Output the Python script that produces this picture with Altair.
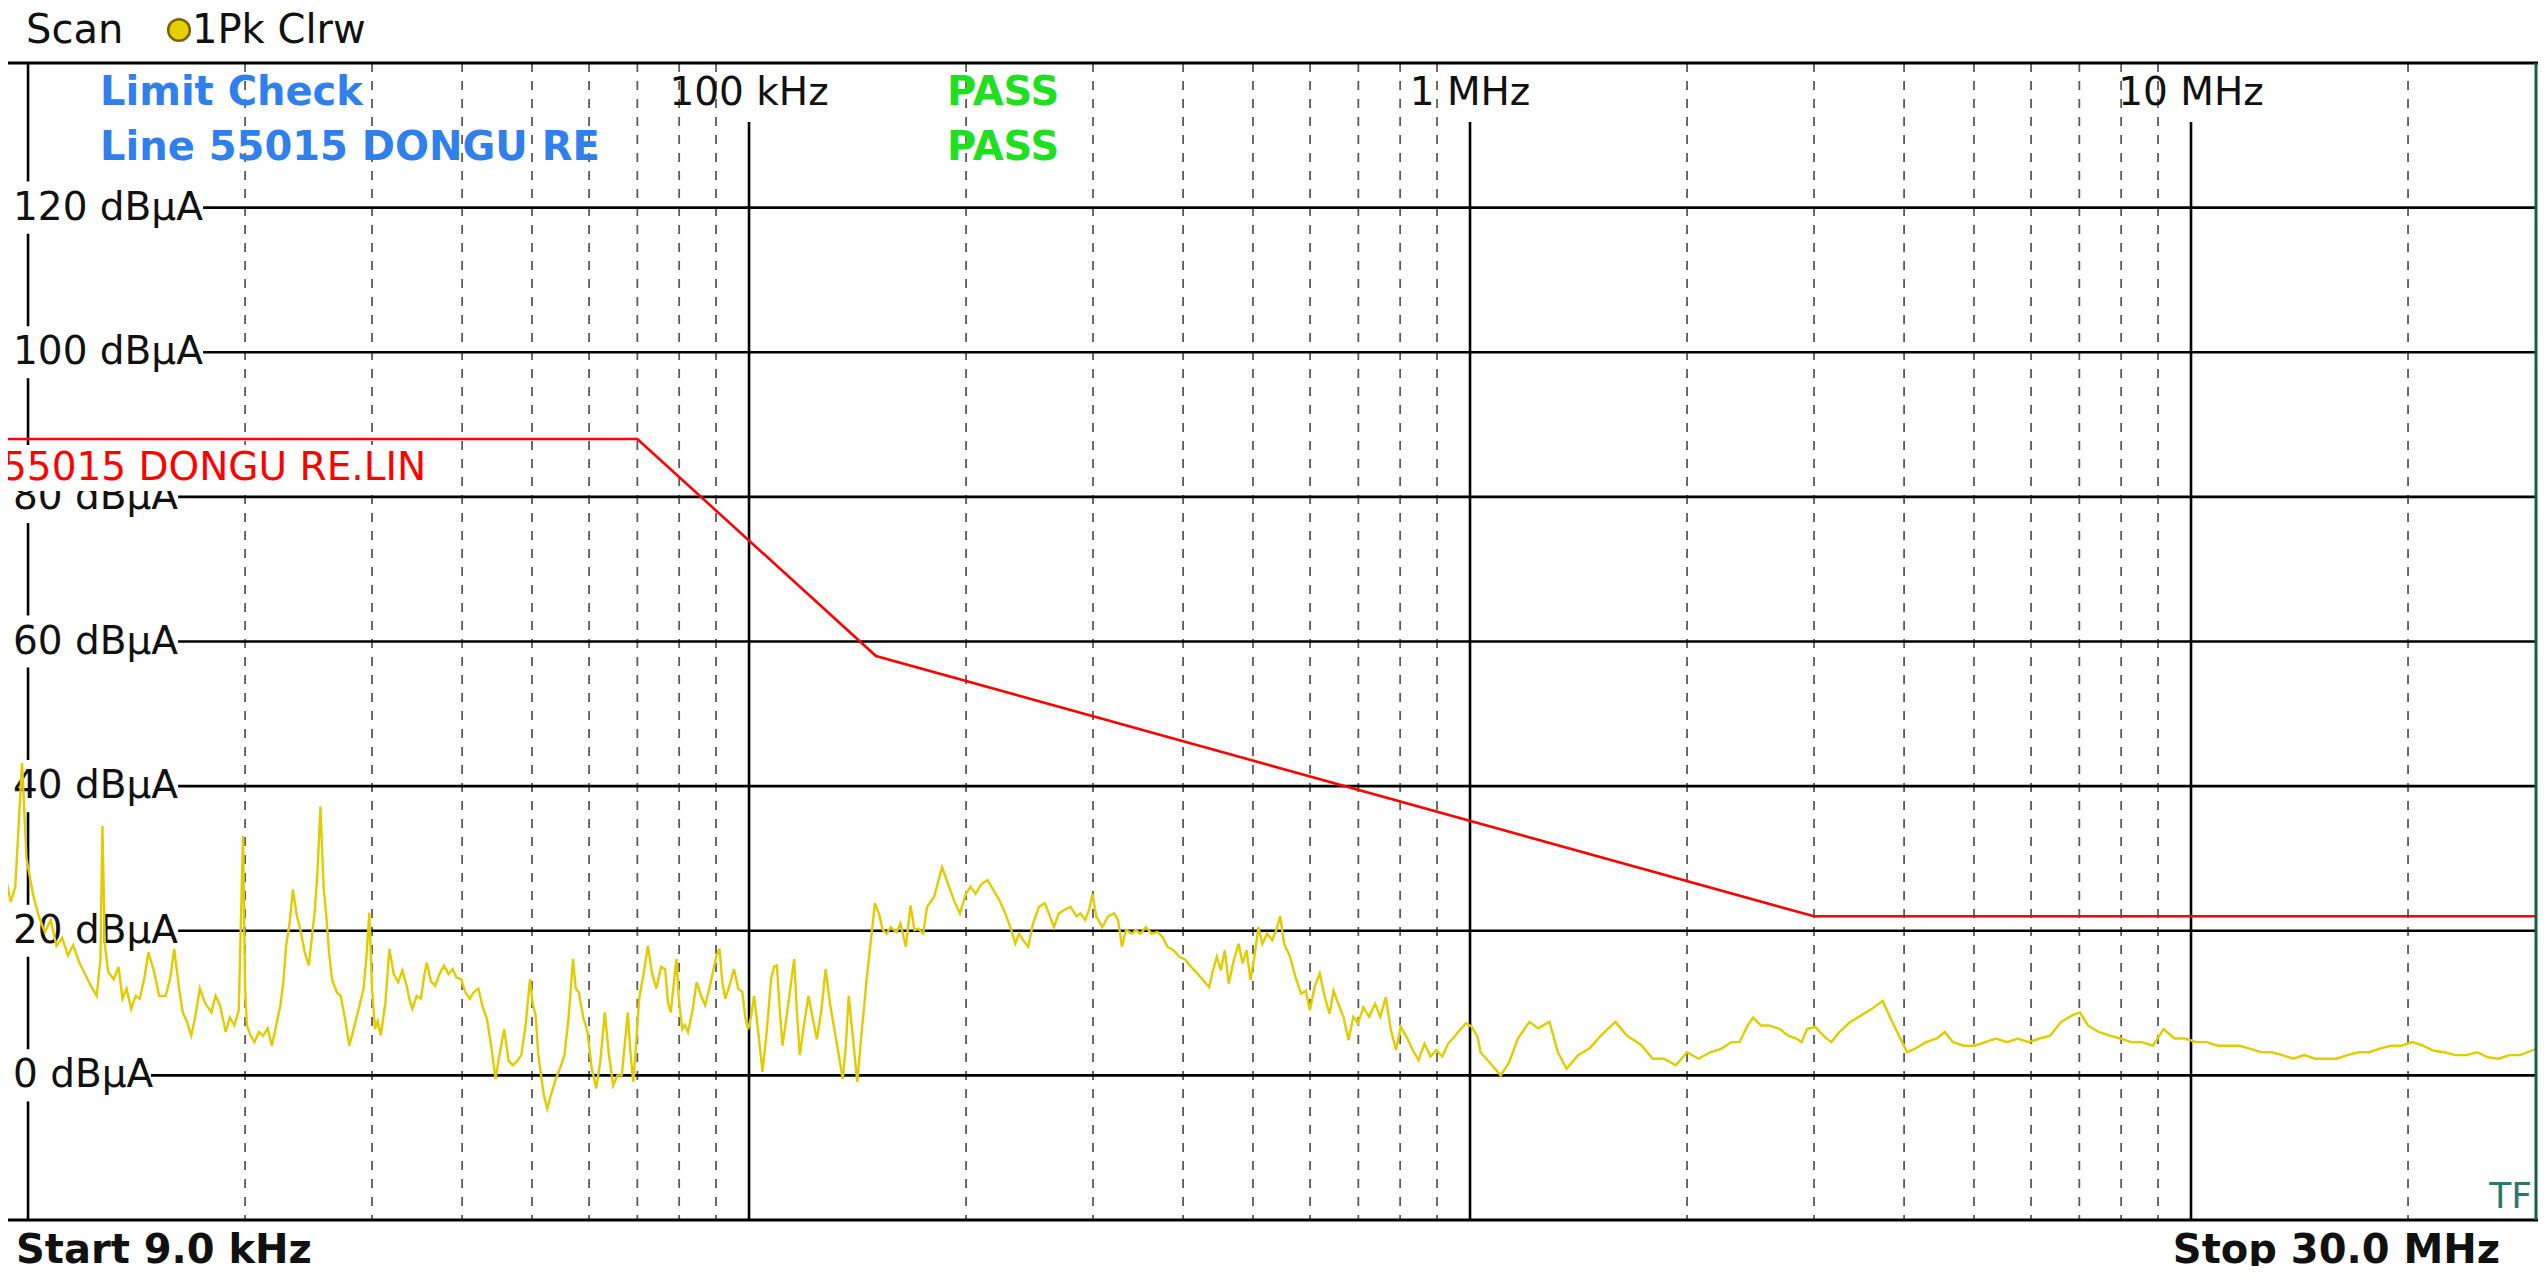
import altair as alt
import pandas as pd

# ---------------- layout constants ----------------
W, H = 2527, 1157
F_MIN, F_MAX = 9380, 30e6
FONT = "DejaVu Sans"

# ---------------- data ----------------
# measured trace (1Pk Clrw), frequency in kHz and level in dBuA
trace_khz = [
    9.12, 9.29, 9.46, 9.60, 9.81, 9.95, 10.17, 10.35, 10.55, 10.75, 10.95, 11.15, 11.36, 11.55,
    11.78, 12.00, 12.22, 12.45, 12.60, 12.68, 12.78, 12.92, 13.15, 13.35, 13.52, 13.70, 13.90,
    14.10, 14.29, 14.50, 14.69, 14.96, 15.20, 15.52, 15.75, 15.95, 16.20, 16.39, 16.60, 16.84,
    17.05, 17.31, 17.60, 17.96, 18.20, 18.46, 18.80, 19.05, 19.33, 19.60, 19.87, 20.00, 20.12,
    20.35, 20.61, 20.90, 21.19, 21.50, 21.78, 22.10, 22.39, 22.60, 22.80, 23.05, 23.30, 23.60,
    23.86, 24.20, 24.52, 24.75, 24.97, 25.20, 25.44, 25.70, 25.92, 26.15, 26.40, 26.80, 27.14,
    27.50, 27.90, 28.30, 28.67, 28.95, 29.20, 29.45, 29.74, 30.00, 30.29, 30.55, 30.85, 31.30,
    31.71, 32.15, 32.61, 33.05, 33.51, 33.80, 34.12, 34.60, 35.07, 35.40, 35.73, 36.20, 36.72,
    37.20, 37.74, 38.30, 38.80, 39.30, 39.88, 40.40, 40.99, 41.50, 42.13, 42.70, 43.30, 43.90,
    44.51, 45.10, 45.75, 46.40, 47.02, 47.70, 48.33, 49.00, 49.68, 50.10, 50.59, 51.00, 51.54,
    52.00, 52.49, 53.20, 53.95, 54.70, 55.46, 56.20, 57.00, 57.50, 58.05, 58.90, 59.70, 60.50,
    61.40, 62.20, 63.10, 63.90, 64.80, 65.70, 66.60, 67.20, 67.90, 68.50, 69.10, 69.80, 70.40,
    71.40, 72.40, 73.40, 74.40, 75.50, 76.50, 77.20, 77.90, 78.60, 79.30, 80.00, 80.80, 81.50,
    82.30, 83.50, 84.60, 85.80, 86.90, 88.10, 89.30, 90.10, 91.00, 91.80, 92.70, 94.00, 95.30,
    96.60, 97.90, 98.80, 99.70, 100.6, 101.6, 103.0, 104.4, 105.8, 107.3, 108.3, 109.3, 110.3,
    111.3, 113.4, 115.5, 116.5, 117.6, 119.2, 120.9, 122.5, 124.2, 126.0, 127.7, 129.5, 131.3,
    133.1, 134.9, 136.2, 137.5, 139.4, 141.3, 143.0, 145.5, 147.6, 149.5,
    151.4, 153.3, 155.2, 157.2, 160.2, 162.2, 165.0, 167.5, 169.6, 171.7, 174.4, 176.6, 180.6,
    185.2, 188.8, 192.4, 196.1, 199.9, 202.9, 206.2, 210.2, 214.2, 218.3, 222.5, 226.7, 231.1,
    234.0, 236.9, 240.0, 243.9, 247.7, 252.4, 257.2, 260.5, 264.8, 268.9, 274.0, 279.2, 284.6,
    288.2, 292.6, 296.3, 299.4, 303.1, 309.0, 314.9, 320.8, 325.0, 329.0, 333.3, 339.6, 344.0,
    349.2, 355.0, 361.8, 368.6, 374.8, 380.5, 387.9, 395.2, 402.8, 410.4, 418.4, 426.3, 434.6,
    440.0, 445.5, 451.2, 457.0, 462.8, 470.4, 477.6, 483.6, 489.8, 496.1, 502.3, 508.8, 515.2,
    523.1, 531.7, 538.6, 545.3, 552.3, 562.8, 573.5, 583.1, 591.9, 599.5, 608.6, 618.8, 629.0,
    638.5, 646.7, 656.5, 667.5, 678.4, 688.9, 699.4, 711.1, 724.6, 738.4, 750.8, 764.1, 776.6,
    789.6, 801.6, 816.8, 832.6, 848.5, 864.6, 881.4, 898.1, 915.2, 932.9, 950.7, 968.8, 987.3,
    1006, 1025, 1034, 1073, 1103, 1133, 1165, 1209, 1243, 1289, 1324, 1361, 1412, 1464, 1519,
    1591, 1650, 1728, 1792, 1859, 1929, 2000, 2075, 2153, 2234,
    2304, 2365, 2427, 2469, 2533, 2600, 2691, 2762, 2835, 2884, 2934, 3012, 3090, 3171, 3254,
    3368, 3487, 3609, 3736, 3834, 3935, 4038, 4144, 4290, 4441, 4555, 4675, 4838, 5008, 5184,
    5366, 5555, 5751, 5952, 6163, 6380, 6604, 6836, 7015, 7195, 7449, 7711, 7983, 8260, 8551,
    8851, 9162, 9484, 9817, 10160, 10520, 10890, 11270, 11670, 12070, 12500, 12940, 13390,
    13870, 14350, 14860, 15380, 15920, 16480, 17060, 17660, 18270, 18920, 19580, 20270, 20980,
    21720, 22480, 23270, 24090, 24930, 25810, 26710, 27650, 28620, 29620, 30000,
]
trace_db = [
    22.0, 28.0, 24.0, 26.0, 43.2, 30.0, 24.8, 22.0, 19.8, 21.5, 17.9, 19.0, 16.6, 18.0,
    15.6, 14.0, 12.4, 11.0, 16.0, 34.5, 18.0, 14.3, 13.3, 15.0, 10.6, 12.0, 9.2,
    11.0, 10.6, 13.5, 17.0, 14.3, 11.0, 11.0, 13.5, 17.5, 12.0, 8.7, 7.5, 5.5,
    8.0, 12.0, 10.0, 8.7, 11.0, 9.7, 6.0, 8.0, 6.9, 9.0, 33.1, 12.0, 6.9,
    5.5, 4.6, 6.0, 5.5, 6.5, 4.1, 7.0, 9.7, 13.0, 17.9, 21.0, 25.7, 22.0,
    20.2, 17.0, 15.2, 19.0, 22.5, 28.0, 37.2, 26.0, 22.1, 17.0, 13.3, 11.5, 11.0,
    8.0, 4.1, 6.5, 8.7, 10.5, 12.0, 16.0, 22.5, 12.0, 6.4, 7.5, 5.5, 10.0,
    17.5, 14.0, 12.9, 14.5, 12.4, 10.5, 9.2, 11.0, 10.6, 13.5, 15.6, 13.0, 12.4,
    14.0, 15.2, 14.0, 14.7, 13.5, 13.3, 11.5, 10.6, 11.5, 12.0, 9.5, 7.8, 4.0,
    -0.5, 3.0, 6.4, 2.0, 1.4, 2.0, 2.8, 7.0, 13.3, 10.0, 8.3, 3.0, -0.5,
    -3.0, -4.6, -2.5, -0.5, 1.0, 2.8, 8.0, 16.1, 12.0, 11.5, 8.0, 6.0, 1.0,
    -1.8, 2.0, 8.7, 3.0, -1.4, 0.0, 0.0, 4.0, 8.7, 3.0, -0.9, 5.0, 10.6,
    14.0, 17.9, 14.0, 12.0, 15.0, 14.7, 10.0, 8.7, 12.5, 16.1, 10.0, 6.4, 7.0,
    6.0, 9.0, 12.9, 11.0, 9.7, 12.0, 14.7, 16.5, 17.5, 13.0, 10.6, 12.5, 14.7,
    12.0, 11.5, 8.0, 6.4, 8.0, 11.0, 6.0, 0.5, 6.0, 13.3, 15.0, 15.2, 9.0,
    4.1, 10.0, 16.1, 9.0, 2.8, 7.0, 11.0, 8.0, 5.0, 9.0, 14.7, 10.0, 6.4,
    3.0, -0.5, 4.0, 11.0, 5.0, -0.9, 5.0, 13.0, 18.7, 23.8,
    22.4, 20.1, 19.6, 20.5, 19.8, 21.0, 17.8, 23.5, 20.1, 20.3, 19.6, 23.3, 24.7,
    28.8, 26.5, 24.2, 22.4, 25.1, 26.1, 25.1, 26.5, 27.0, 25.6, 24.2, 22.4, 20.1,
    18.2, 19.6, 18.7, 17.8, 21.0, 23.3, 23.8, 22.4, 20.5, 22.4, 22.9, 23.3, 22.0,
    22.4, 21.5, 22.9, 25.1, 22.0, 20.5, 22.0, 22.4, 21.5, 17.8, 20.1, 19.6, 20.1,
    19.6, 20.5, 19.6, 19.8, 19.1, 17.8, 17.3, 16.4, 16.0, 15.0, 14.1, 13.2, 12.2,
    14.5, 16.4, 14.5, 17.3, 12.7, 16.0, 18.2, 15.5, 17.3, 13.2, 16.4, 20.5, 18.2,
    19.6, 18.7, 20.1, 22.0, 18.2, 16.4, 13.4, 11.3, 11.7, 9.0, 12.2, 14.1, 10.8,
    8.5, 11.7, 9.9, 8.1, 4.9, 8.1, 7.2, 9.4, 8.1, 9.9, 8.1, 10.8, 6.3,
    3.5, 6.7, 5.3, 3.5, 2.1, 4.4, 2.6, 3.5, 2.6, 4.4, 5.3, 6.3, 7.2,
    6.7, 5.3, 3.2, 1.4, 0.0, 1.8, 5.1, 7.4, 6.5, 7.4, 3.2, 0.9, 2.8, 3.7, 5.5,
    7.4, 5.5, 4.2, 2.3, 2.3, 1.4, 3.2, 2.3, 3.2, 3.7,
    4.6, 4.6, 6.9, 8.0, 6.9, 6.9, 6.4, 5.5, 5.1, 4.6, 6.4, 6.7, 5.5, 4.6, 6.0,
    7.4, 8.3, 9.2, 10.3, 7.8, 5.5, 3.2, 3.7, 4.6, 5.1, 6.0, 4.6, 4.1, 4.1, 4.6,
    5.1, 4.6, 5.1, 4.6, 5.1, 5.5, 7.4, 8.3, 8.7, 6.9, 6.0, 5.5, 5.1, 4.6, 4.6,
    4.1, 6.4, 5.1, 5.1, 4.6, 4.6, 4.1, 4.1, 4.1, 3.7, 3.2, 3.2, 2.8,
    2.3, 2.8, 2.3, 2.3, 2.3, 2.8, 3.2, 3.2, 3.7, 4.1, 4.1, 4.6, 4.1,
    3.4, 3.2, 2.8, 2.8, 3.2, 2.5, 2.3, 2.8, 2.8, 3.4, 3.6,
]

# limit line "55015 DONGU RE" (dBuA)
limit_hz = [9000, 70000, 150000, 3000000, 30000000]
limit_db = [88, 88, 58, 22, 22]

# frequency grid
major_hz = [100000, 1000000, 10000000]
major_labels = ["100 kHz", "1 MHz", "10 MHz"]
first_major_hz = [10000]
minor_hz = [20000, 30000, 40000, 50000, 60000, 70000, 80000, 90000,
            200000, 300000, 400000, 500000, 600000, 700000, 800000, 900000,
            2000000, 3000000, 4000000, 5000000, 6000000, 7000000, 8000000, 9000000,
            20000000]

# level grid
level_db = [0, 20, 40, 60, 80, 100, 120]
level_labels = ["0 dBµA", "20 dBµA", "40 dBµA", "60 dBµA", "80 dBµA", "100 dBµA", "120 dBµA"]
level_line_start_hz = [14810, 16150, 16150, 16150, 16150, 17490, 17490]

# ---------------- frames ----------------
trace_df = pd.DataFrame({"f": [k * 1000 for k in trace_khz], "db": trace_db})
limit_df = pd.DataFrame({"f": limit_hz, "db": limit_db})
major_df = pd.DataFrame({"f": major_hz, "label": major_labels})
first_df = pd.DataFrame({"f": first_major_hz})
minor_df = pd.DataFrame({"f": minor_hz})
level_df = pd.DataFrame({"db": level_db, "label": level_labels,
                         "f0": level_line_start_hz, "f1": [F_MAX] * len(level_db)})
one = pd.DataFrame({"k": [0]})

xs = alt.Scale(type="log", domain=[F_MIN, F_MAX])
ys = alt.Scale(domain=[-20, 140])


def X(field):
    return alt.X(field, type="quantitative", scale=xs, axis=None)


def Y(field):
    return alt.Y(field, type="quantitative", scale=ys, axis=None)


def label(text, x, y, size=39, color="#111111", weight="normal", align="left"):
    return alt.Chart(one).mark_text(text=text, align=align, baseline="middle", font=FONT,
                                    fontSize=size, fontWeight=weight, color=color).encode(
        x=alt.value(x), y=alt.value(y))


layers = []

# dashed minor frequency grid
layers.append(alt.Chart(minor_df).mark_rule(color="#5c5c5c", strokeWidth=1.8, strokeDash=[9, 9]).encode(
    x=X("f"), y=alt.value(0), y2=alt.value(H)))
# solid decade lines (start below their labels)
layers.append(alt.Chart(major_df).mark_rule(color="#000000", strokeWidth=2.6).encode(
    x=X("f"), y=alt.value(59), y2=alt.value(H)))
layers.append(alt.Chart(first_df).mark_rule(color="#000000", strokeWidth=2.6).encode(
    x=X("f"), y=alt.value(0), y2=alt.value(H)))
# level grid lines
layers.append(alt.Chart(level_df).mark_rule(color="#000000", strokeWidth=2.6).encode(
    x=X("f0"), x2="f1", y=Y("db")))
# frame top / bottom
layers.append(alt.Chart(one).mark_rule(color="#000000", strokeWidth=3).encode(
    x=alt.value(0), x2=alt.value(W + 3), y=alt.value(0)))
layers.append(alt.Chart(one).mark_rule(color="#000000", strokeWidth=3).encode(
    x=alt.value(0), x2=alt.value(W + 3), y=alt.value(H)))
# level label backgrounds and labels
layers.append(alt.Chart(level_df).transform_calculate(
    lo="datum.db - 3.6", hi="datum.db + 3.6").mark_rect(color="white").encode(
    x=alt.value(0), x2=alt.value(45), y=Y("lo:Q"), y2="hi:Q"))
layers.append(alt.Chart(level_df).mark_text(align="left", baseline="middle", font=FONT,
                                             fontSize=39, color="#111111").encode(
    x=alt.value(5), y=Y("db"), text="label:N"))
# frequency labels
layers.append(alt.Chart(major_df).mark_text(align="center", baseline="middle", font=FONT,
                                             fontSize=39, color="#111111").encode(
    x=X("f"), y=alt.value(30), text="label:N"))
# limit line label (its white box hides the top of the 80 dBuA label, as on the instrument)
layers.append(alt.Chart(one).mark_rect(color="white").encode(
    x=alt.value(0), x2=alt.value(420), y=alt.value(382), y2=alt.value(428)))
layers.append(label("55015 DONGU RE.LIN", -6, 405, color="#ff0000"))
# limit line
layers.append(alt.Chart(limit_df).mark_line(color="#ff0000", strokeWidth=2.6, clip=True).encode(
    x=X("f"), y=Y("db"), order="f:Q"))
# trace
layers.append(alt.Chart(trace_df).mark_line(color="#e2cc00", strokeWidth=2.4, clip=True).encode(
    x=X("f"), y=Y("db"), order="f:Q"))

# limit check texts
layers.append(label("Limit Check", 92, 30, size=40, weight="bold", color="#2f80ed"))
layers.append(label("Line 55015 DONGU RE", 92, 85, size=40, weight="bold", color="#2f80ed"))
layers.append(label("PASS", 939, 30, size=40, weight="bold", color="#1ee01e"))
layers.append(label("PASS", 939, 85, size=40, weight="bold", color="#1ee01e"))
# header
layers.append(label("Scan", 18, -32, size=40))
layers.append(alt.Chart(one).mark_circle(size=470, color="#e8d000", stroke="#7a6400",
                                          strokeWidth=2.5, opacity=1).encode(
    x=alt.value(171), y=alt.value(-33)))
layers.append(label("1Pk Clrw", 184, -32, size=40))
# footer
layers.append(label("Start 9.0 kHz", 8, H + 31, size=40, weight="bold"))
layers.append(label("Stop 30.0 MHz", 2492, H + 31, size=40, weight="bold", align="right"))
layers.append(label("TF", 2524, H - 23, size=36, color="#2a7a6a", align="right"))
# right edge marker line
layers.append(alt.Chart(one).mark_rule(color="#1d5a4a", strokeWidth=3).encode(
    x=alt.value(W + 1), y=alt.value(0), y2=alt.value(H)))

chart = alt.layer(*layers).properties(
    width=W, height=H,
    autosize=alt.AutoSizeParams(type="none"),
    padding={"left": 0, "top": 55, "right": 3, "bottom": 46},
    background="white",
).configure_view(strokeWidth=0)

chart.save("out.html", embed_options={"renderer": "svg", "actions": False})
